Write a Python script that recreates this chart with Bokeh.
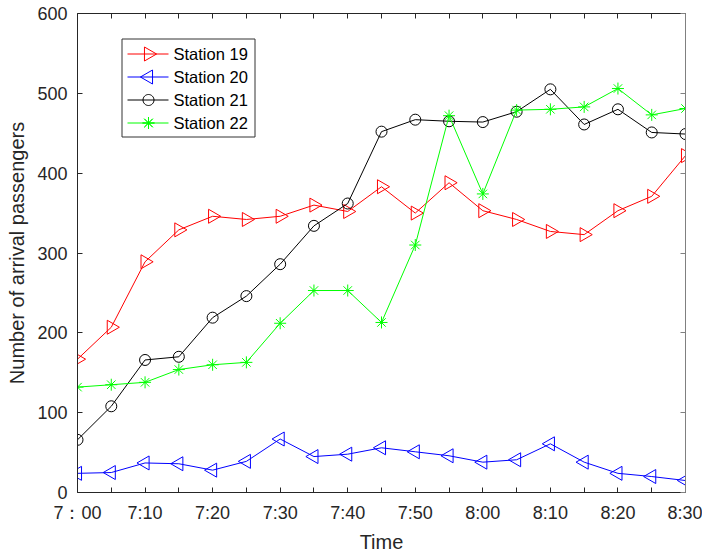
import math
from bokeh.plotting import figure
from bokeh.models import (Range1d, FixedTicker, LinearAxis, BoxAnnotation, Label, PolyAnnotation)
from bokeh.embed import file_html
from bokeh.resources import INLINE

# ---- data ----
minutes = [0, 5, 10, 15, 20, 25, 30, 35, 40, 45, 50, 55, 60, 65, 70, 75, 80, 85, 90]
label_minutes = [0, 10, 20, 30, 40, 50, 60, 70, 80, 90]
tick_labels = ["7：00", "7:10", "7:20", "7:30", "7:40", "7:50", "8:00", "8:10", "8:20", "8:30"]
station19 = [167, 207, 289, 329, 346, 342, 346, 360, 352, 383, 350, 388, 353, 342, 327, 323, 353, 371, 422]
station20 = [24, 25, 37, 36, 28, 39, 67, 45, 48, 56, 51, 46, 38, 41, 61, 38, 24, 20, 15]
station21 = [66, 108, 166, 170, 219, 246, 286, 334, 362, 452, 467, 465, 464, 477, 505, 461, 480, 451, 449]
station22 = [132, 135, 138, 154, 160, 163, 212, 253, 253, 213, 310, 472, 374, 479, 480, 483, 506, 473, 481]
names = ["Station 19", "Station 20", "Station 21", "Station 22"]
y_ticks = [0, 100, 200, 300, 400, 500, 600]

FONT = "Liberation Sans"
TXT = "#262626"
minor_x = [m for m in minutes if m not in label_minutes]

p = figure(width=702, height=555, output_backend="svg", toolbar_location=None,
           x_range=Range1d(0, 90), y_range=Range1d(0, 600),
           min_border_left=77, min_border_right=17, min_border_top=13, min_border_bottom=63)
p.grid.visible = False
p.outline_line_color = None
p.background_fill_color = "white"
p.border_fill_color = "white"

# bottom axis
xa = p.xaxis[0]
xa.ticker = FixedTicker(ticks=label_minutes, minor_ticks=minor_x)
xa.major_label_overrides = {m: lab for m, lab in zip(label_minutes, tick_labels)}
xa.minor_tick_in = 5
xa.minor_tick_out = 0
xa.minor_tick_line_color = TXT
xa.major_tick_in = 5
xa.major_tick_out = 0
xa.axis_line_color = TXT
xa.major_tick_line_color = TXT
xa.major_label_text_font = FONT
xa.major_label_text_font_size = "18px"
xa.major_label_text_color = TXT
xa.major_label_standoff = 10
xa.axis_label = "Time"
xa.axis_label_text_font = FONT
xa.axis_label_text_font_size = "20px"
xa.axis_label_text_font_style = "normal"
xa.axis_label_text_color = TXT
xa.axis_label_standoff = 5

# left axis
ya = p.yaxis[0]
ya.ticker = FixedTicker(ticks=y_ticks)
ya.minor_tick_line_color = None
ya.major_tick_in = 5
ya.major_tick_out = 0
ya.axis_line_color = TXT
ya.major_tick_line_color = TXT
ya.major_label_text_font = FONT
ya.major_label_text_font_size = "18px"
ya.major_label_text_color = TXT
ya.major_label_standoff = 10
ya.axis_label = "Number of arrival passengers"
ya.axis_label_text_font = FONT
ya.axis_label_text_font_size = "20px"
ya.axis_label_text_font_style = "normal"
ya.axis_label_text_color = TXT
ya.axis_label_standoff = 6

# top / right box axes (tick marks only, no labels)
top = LinearAxis(ticker=FixedTicker(ticks=[], minor_ticks=minutes),
                 minor_tick_in=5, minor_tick_out=0, minor_tick_line_color=TXT,
                 major_tick_line_color=None, axis_line_color=TXT)
right = LinearAxis(ticker=FixedTicker(ticks=[], minor_ticks=y_ticks),
                   minor_tick_in=5, minor_tick_out=0, minor_tick_line_color="#808080",
                   major_tick_line_color=None, axis_line_color="#808080")
p.add_layout(top, "above")
p.add_layout(right, "right")

colors = ["#ff0000", "#0000ff", "#000000", "#00ff00"]
markers = ["triangle", "triangle", "circle", "asterisk"]
angles = [-math.pi / 2, math.pi / 2, 0, 0]
sizes = [14, 14, 11, 12]
for vals, col, mk, ang, sz in zip([station19, station20, station21, station22],
                                  colors, markers, angles, sizes):
    p.line(minutes, vals, line_color=col, line_width=1)
    p.scatter(minutes, vals, marker=mk, angle=ang, size=sz, line_color=col,
              fill_color=None, line_width=1)

# ---- legend (drawn in canvas pixels) ----
LX0, LX1, LY0, LY1 = 121.5, 254.5, 38.5, 136.5
ROW0, ROWH = 53.5, 23
GX0, GX1, GXC, TX = 127, 168, 148, 173
p.add_layout(BoxAnnotation(left=LX0, right=LX1, top=LY0, bottom=LY1,
                           left_units="canvas", right_units="canvas",
                           top_units="canvas", bottom_units="canvas",
                           fill_color="white", fill_alpha=1,
                           line_color="#333333", line_width=1, line_alpha=1,
                           editable=False))


def poly(xs, ys, col):
    return PolyAnnotation(xs=xs, ys=ys, xs_units="canvas", ys_units="canvas",
                          line_color=col, line_width=1, line_alpha=1,
                          fill_color=None, fill_alpha=0)


for i, (name, col, mk) in enumerate(zip(names, colors, markers)):
    cy = ROW0 + i * ROWH
    p.add_layout(poly([GX0, GX1], [cy, cy], col))
    if mk == "triangle":
        r, h = 7.0, 7.0 * math.sqrt(3)
        d = 1 if i == 0 else -1
        xs = [GXC + d * 2 * h / 3, GXC - d * h / 3, GXC - d * h / 3]
        ys = [cy, cy - r, cy + r]
        p.add_layout(poly(xs, ys, col))
    elif mk == "circle":
        n = 32
        xs = [GXC + 5.5 * math.cos(2 * math.pi * k / n) for k in range(n)]
        ys = [cy + 5.5 * math.sin(2 * math.pi * k / n) for k in range(n)]
        p.add_layout(poly(xs, ys, col))
    else:
        xs, ys = [], []
        for k in range(8):
            a = math.pi * k / 4
            xs += [GXC, GXC + 6 * math.cos(a)]
            ys += [cy, cy + 6 * math.sin(a)]
        p.add_layout(poly(xs, ys, col))
    p.add_layout(Label(x=TX, y=cy, x_units="canvas", y_units="canvas", text=name,
                       text_font=FONT, text_font_size="16.5px", text_color="#000000",
                       text_baseline="middle", text_align="left"))

open("out.html", "w").write(file_html(p, INLINE))
